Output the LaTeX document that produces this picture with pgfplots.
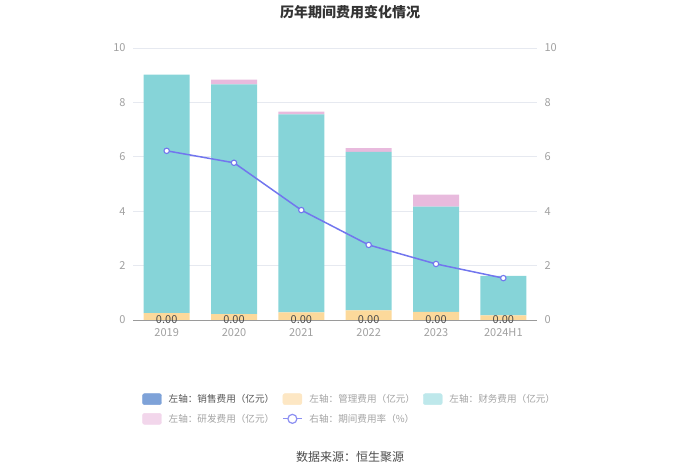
\documentclass[border=0pt]{standalone}
\usepackage{fontspec}
\setmainfont{Noto Sans CJK SC}
\usepackage{pgfplots}
\pgfplotsset{compat=1.18}
\definecolor{cSales}{HTML}{8AA9DB}
\definecolor{cMan}{HTML}{FCD99B}
\definecolor{cFin}{HTML}{86D4D8}
\definecolor{cRD}{HTML}{E8BADD}
\definecolor{cLine}{HTML}{7276EE}
\definecolor{cGrid}{HTML}{E6E9F0}
\definecolor{cTick}{HTML}{A0A0A0}
\definecolor{cAxis}{HTML}{9A9A9A}
\definecolor{lSales}{HTML}{7EA2D8}
\definecolor{lMan}{HTML}{FDE7C4}
\definecolor{lFin}{HTML}{BEE8EB}
\definecolor{lRD}{HTML}{F2D6EB}
\definecolor{lLine}{HTML}{8C8FF2}
\definecolor{tDark}{HTML}{555555}
\definecolor{tLight}{HTML}{A3A3A3}
\pgfplotsset{barleg/.style={legend image code/.code={\fill[#1, rounded corners=2pt] (0pt,-5.5pt) rectangle (19pt,5.5pt);}}}
\begin{document}
\begin{tikzpicture}[x=1pt,y=1pt]
\path[use as bounding box] (0,0) rectangle (700,473);
\node[font=\bfseries\fontsize{14}{16}\selectfont, text=black!80] at (350,461) {历年期间费用变化情况};
\node[font=\fontsize{12}{14}\selectfont, text=black!70] at (350,16) {数据来源：恒生聚源};

\begin{axis}[at={(133pt,153pt)}, anchor=south west, scale only axis,
  width=404pt, height=272pt,
  ybar stacked, bar width=46pt,
  xmin=-0.5, xmax=5.5, ymin=0, ymax=10,
  xtick={0,...,5}, xticklabels={2019,2020,2021,2022,2023,2024H1},
  ytick={0,2,...,10},
  axis x line*=bottom, axis y line*=left,
  y axis line style={draw=none},
  x axis line style={draw=cAxis, line width=0.8pt, -},
  major tick length=0pt,
  ymajorgrids, grid style={cGrid, line width=0.6pt},
  tick label style={font=\fontsize{11}{13}\selectfont, text=cTick},
  /pgf/number format/assume math mode=true,
  yticklabel style={xshift=-4pt},
  xticklabel style={yshift=-5pt},
]
\addplot[fill=cSales, draw=none] coordinates {(0,0) (1,0) (2,0) (3,0) (4,0) (5,0)};
\addplot[fill=cMan, draw=none] coordinates {(0,0.25) (1,0.22) (2,0.28) (3,0.35) (4,0.30) (5,0.17)};
\addplot[fill=cFin, draw=none] coordinates {(0,8.77) (1,8.44) (2,7.28) (3,5.83) (4,3.87) (5,1.45)};
\addplot[fill=cRD, draw=none] coordinates {(0,0) (1,0.18) (2,0.10) (3,0.14) (4,0.44) (5,0)};
\end{axis}

\begin{axis}[at={(133pt,153pt)}, anchor=south west, scale only axis,
  width=404pt, height=272pt,
  xmin=-0.5, xmax=5.5, ymin=0, ymax=10,
  axis x line=none, axis y line*=right,
  y axis line style={draw=none},
  ytick={0,2,...,10}, major tick length=0pt,
  tick label style={font=\fontsize{11}{13}\selectfont, text=cTick},
  /pgf/number format/assume math mode=true,
  yticklabel style={xshift=4pt},
  legend style={at={(0.0225,-0.265)}, anchor=north west, draw=none, fill=none,
    font=\fontsize{9.6}{12}\selectfont, inner sep=0pt,
    row sep=6pt,
    /tikz/every odd column/.append style={column sep=5pt},
    /tikz/every even column/.append style={column sep=6pt}},
  legend columns=3, legend cell align=left,
]
\addlegendimage{barleg=lSales}
\addlegendentry[text=tDark]{左轴：销售费用（亿元）}
\addlegendimage{barleg=lMan}
\addlegendentry[text=tLight]{左轴：管理费用（亿元）}
\addlegendimage{barleg=lFin}
\addlegendentry[text=tLight]{左轴：财务费用（亿元）}
\addlegendimage{barleg=lRD}
\addlegendentry[text=tLight]{左轴：研发费用（亿元）}
\addplot[cLine, line width=1.5pt, mark=*, mark size=2.7pt,
  mark options={fill=white, draw=cLine, line width=1.1pt},
  legend image code/.code={\draw[lLine, line width=1.2pt] (0pt,0pt) -- (19pt,0pt);
    \draw[lLine, fill=white, line width=1.2pt] (9.5pt,0pt) circle (4.5pt);}]
  coordinates {(0,6.22) (1,5.78) (2,4.04) (3,2.76) (4,2.06) (5,1.54)};
\addlegendentry[text=tLight]{右轴：期间费用率（\%）}
\addplot[draw=none, mark=none, nodes near coords={\pgfmathprintnumber[fixed,zerofill,precision=2]{\pgfplotspointmeta}},
  every node near coord/.append style={anchor=center, inner sep=0pt, font=\fontsize{11}{12}\selectfont, text=black!70}, forget plot]
  coordinates {(0,0) (1,0) (2,0) (3,0) (4,0) (5,0)};
\end{axis}
\end{tikzpicture}
\end{document}
